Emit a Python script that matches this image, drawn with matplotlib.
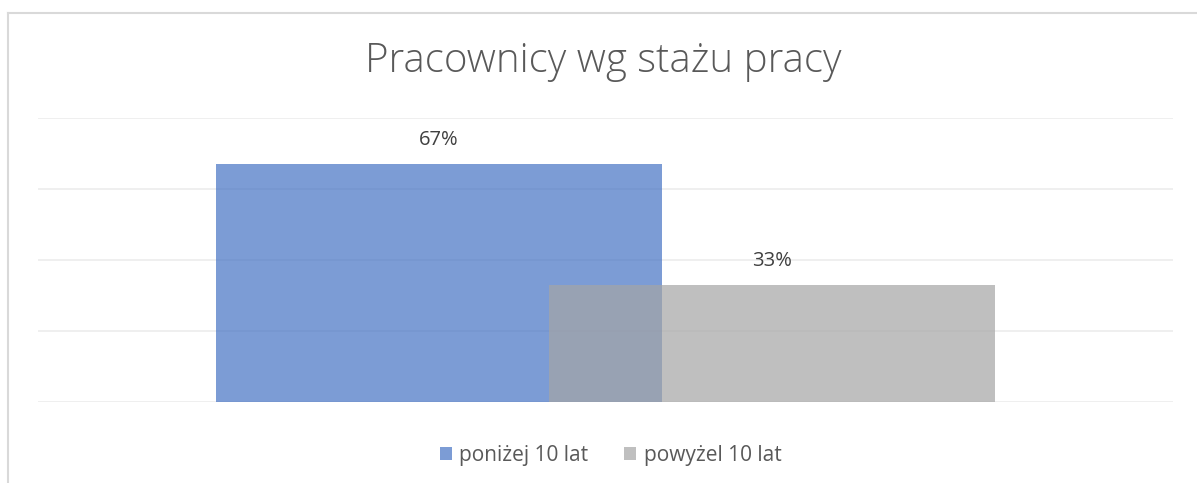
"""Pracownicy wg stażu pracy - overlapping bar chart in Excel style."""

import matplotlib.pyplot as plt
from matplotlib.lines import Line2D
from matplotlib.patches import Patch

SERIES = ["poniżej 10 lat", "powyżel 10 lat"]
VALUES = [0.67, 0.33]
LABELS = ["67%", "33%"]
TITLE = "Pracownicy wg stażu pracy"

COLORS = ["#4472C4", "#A5A5A5"]
OFFSETS = [-0.147, 0.147]
BAR_WIDTH = 0.393

plt.rcParams["font.family"] = ["Open Sans", "DejaVu Sans"]

W, H = 1197, 483
fig = plt.figure(figsize=(W / 100, H / 100), dpi=100)
ax = fig.add_axes([38 / W, 1 - 402 / H, (1173 - 38) / W, (402 - 118) / H])

for value, label, color, off in zip(VALUES, LABELS, COLORS, OFFSETS):
    ax.bar(off, value, width=BAR_WIDTH, color=color, alpha=0.7, zorder=3)
    ax.annotate(label, (off, value), xytext=(0, 10), textcoords="offset points",
                ha="center", va="bottom", fontsize=14.5, color="#404040")

ax.set_xlim(-0.5, 0.5)
ax.set_ylim(0, 0.8)
ax.set_yticks([0, 0.2, 0.4, 0.6, 0.8])
ax.yaxis.grid(True, color="#EEEEEE", linewidth=1.3, zorder=0)
ax.tick_params(left=False, bottom=False, labelleft=False, labelbottom=False)
for spine in ax.spines.values():
    spine.set_visible(False)

fig.text(0.504, 1 - 62 / H, TITLE, ha="center", va="center", fontsize=29,
         color="#595959", fontweight="light")

handles = [Patch(facecolor=c, alpha=0.7, edgecolor="none") for c in COLORS]
fig.legend(handles, SERIES, loc="center", bbox_to_anchor=(0.51, 1 - 455 / H),
           ncol=2, frameon=False, fontsize=15, labelcolor="#595959",
           handlelength=0.6, handleheight=0.6, handletextpad=0.35, columnspacing=1.7)

# chart area frame (left and top edges visible in crop)
fig.add_artist(Line2D([8 / W, 8 / W], [0, 1 - 13 / H], color="#D9D9D9", linewidth=1.5))
fig.add_artist(Line2D([8 / W, 1], [1 - 13 / H, 1 - 13 / H], color="#D9D9D9", linewidth=1.5))

fig.savefig("out.png", dpi=100)
